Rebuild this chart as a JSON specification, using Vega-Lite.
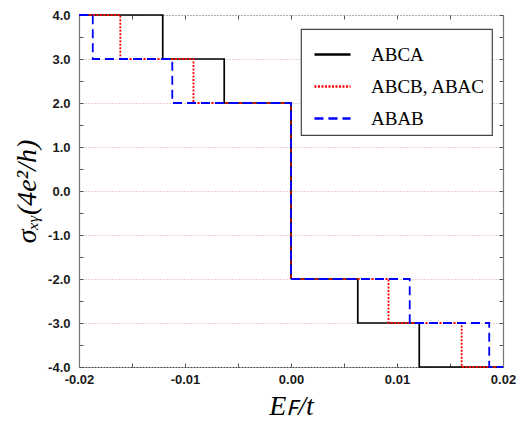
{
  "$schema": "https://vega.github.io/schema/vega-lite/v6.json",
  "width": 424,
  "height": 352,
  "autosize": "none",
  "padding": {"left": 79, "top": 15, "right": 15, "bottom": 63},
  "background": "white",
  "config": {
    "view": {"stroke": null},
    "axis": {
      "labelFont": "Liberation Sans",
      "labelFontWeight": "bold",
      "labelFontSize": 13,
      "labelColor": "#1a1a1a",
      "tickColor": "#555555",
      "tickSize": -4,
      "domainColor": "#777777",
      "domainWidth": 1.2,
      "titleFont": "Liberation Serif",
      "titleFontStyle": "italic",
      "titleFontWeight": "normal",
      "titleFontSize": 28,
      "titleColor": "#000000"
    },
    "legend": {
      "orient": "none",
      "legendX": 222,
      "legendY": 14,
      "title": null,
      "fillColor": "white",
      "strokeColor": "#444444",
      "strokeWidth": 1.2,
      "padding": 6,
      "symbolOffset": 6,
      "labelOffset": 19,
      "labelFont": "Liberation Serif",
      "labelFontSize": 19,
      "labelColor": "#000000",
      "labelLimit": 300,
      "rowPadding": 2,
      "symbolType": "stroke",
      "symbolSize": 1300,
      "symbolStrokeWidth": 2.4
    }
  },
  "data": {
    "values": [
      {"series": "ABCA", "x": -0.02, "y": 4},
      {"series": "ABCA", "x": -0.0121, "y": 3},
      {"series": "ABCA", "x": -0.0063, "y": 2},
      {"series": "ABCA", "x": 0, "y": -2},
      {"series": "ABCA", "x": 0.0063, "y": -3},
      {"series": "ABCA", "x": 0.0121, "y": -4},
      {"series": "ABCA", "x": 0.02, "y": -4},
      {"series": "ABCB, ABAC", "x": -0.02, "y": 4},
      {"series": "ABCB, ABAC", "x": -0.0161, "y": 3},
      {"series": "ABCB, ABAC", "x": -0.0092, "y": 2},
      {"series": "ABCB, ABAC", "x": 0, "y": -2},
      {"series": "ABCB, ABAC", "x": 0.0092, "y": -3},
      {"series": "ABCB, ABAC", "x": 0.0161, "y": -4},
      {"series": "ABCB, ABAC", "x": 0.02, "y": -4},
      {"series": "ABAB", "x": -0.02, "y": 4},
      {"series": "ABAB", "x": -0.0187, "y": 3},
      {"series": "ABAB", "x": -0.0112, "y": 2},
      {"series": "ABAB", "x": 0, "y": -2},
      {"series": "ABAB", "x": 0.0112, "y": -3},
      {"series": "ABAB", "x": 0.0187, "y": -4},
      {"series": "ABAB", "x": 0.02, "y": -4}
    ]
  },
  "resolve": {"axis": {"x": "independent", "y": "independent"}},
  "layer": [
    {
      "transform": [{"filter": "datum.series == 'ABCA'"}],
      "mark": {"type": "line", "interpolate": "step-after", "strokeWidth": 1.7},
      "encoding": {
        "x": {
          "field": "x", "type": "quantitative",
          "scale": {"domain": [-0.02, 0.02], "nice": false, "zero": false},
          "axis": {
            "orient": "bottom",
            "values": [-0.02, -0.015, -0.01, -0.005, 0, 0.005, 0.01, 0.015, 0.02],
            "labelExpr": "abs(round(datum.value * 200)) % 2 == 0 ? replace(format(datum.value, '.2f'), '\u2212', '-') : ''",
            "labelPadding": 10,
            "labelFlush": false,
            "domainColor": "#444444",
            "domainDash": [2, 1],
            "grid": false,
            "title": "Eꜰ/t",
            "titlePadding": 6
          }
        },
        "y": {
          "field": "y", "type": "quantitative",
          "scale": {"domain": [-4, 4], "nice": false, "zero": false},
          "axis": {
            "orient": "left",
            "values": [-4, -3.5, -3, -2.5, -2, -1.5, -1, -0.5, 0, 0.5, 1, 1.5, 2, 2.5, 3, 3.5, 4],
            "labelExpr": "datum.value % 1 == 0 ? replace(format(datum.value, '.1f'), '\u2212', '-') : ''",
            "labelPadding": 13,
            "labelFlush": false,
            "grid": true,
            "gridColor": "#d9a0a0",
            "gridDash": [1, 2],
            "gridWidth": 1,
            "gridOpacity": {"condition": {"test": "datum.value % 1 != 0", "value": 0}, "value": 1},
            "title": "σₓᵧ(4e²/h)",
            "titlePadding": 6
          }
        },
        "color": {
          "field": "series", "type": "nominal",
          "scale": {"domain": ["ABCA", "ABCB, ABAC", "ABAB"], "range": ["#000000", "#ff0000", "#0000ff"]},
          "legend": {"labelFont": "Liberation Serif", "labelFontSize": 19, "labelFontWeight": "normal"}
        },
        "strokeDash": {
          "field": "series", "type": "nominal",
          "scale": {"domain": ["ABCA", "ABCB, ABAC", "ABAB"], "range": [[1, 0], [2, 1.5], [9, 5]]},
          "legend": {"labelFont": "Liberation Serif", "labelFontSize": 19, "labelFontWeight": "normal"}
        }
      }
    },
    {
      "transform": [{"filter": "datum.series == 'ABCB, ABAC'"}],
      "mark": {"type": "line", "interpolate": "step-after", "strokeWidth": 1.8},
      "encoding": {
        "x": {"field": "x", "type": "quantitative", "axis": null},
        "y": {"field": "y", "type": "quantitative", "axis": null},
        "color": {"field": "series", "type": "nominal"},
        "strokeDash": {"field": "series", "type": "nominal"}
      }
    },
    {
      "transform": [{"filter": "datum.series == 'ABAB'"}],
      "mark": {"type": "line", "interpolate": "step-after", "strokeWidth": 1.8},
      "encoding": {
        "x": {
          "field": "x", "type": "quantitative",
          "axis": {
            "orient": "top",
            "values": [-0.02, -0.015, -0.01, -0.005, 0, 0.005, 0.01, 0.015, 0.02],
            "labels": false,
            "grid": false,
            "domainColor": "#888888",
            "domainDash": [1, 2],
            "title": null
          }
        },
        "y": {
          "field": "y", "type": "quantitative",
          "axis": {
            "orient": "right",
            "values": [-4, -3.5, -3, -2.5, -2, -1.5, -1, -0.5, 0, 0.5, 1, 1.5, 2, 2.5, 3, 3.5, 4],
            "labels": false,
            "grid": false,
            "title": null
          }
        },
        "color": {"field": "series", "type": "nominal"},
        "strokeDash": {"field": "series", "type": "nominal"}
      }
    }
  ]
}
